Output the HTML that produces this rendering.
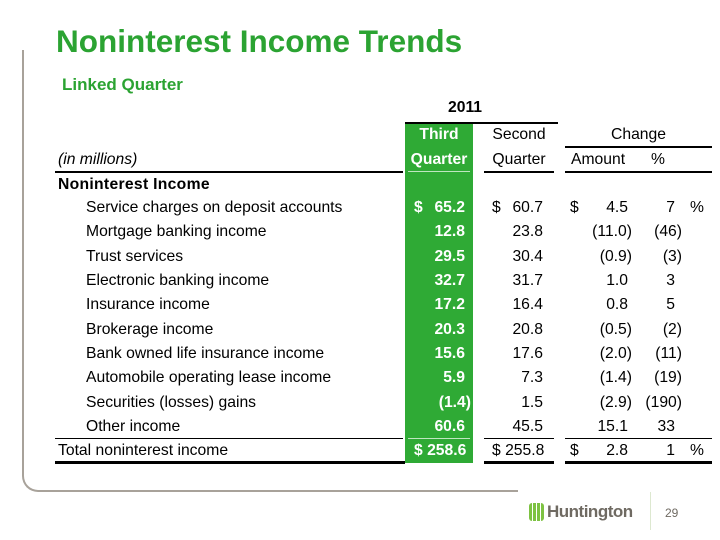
<!DOCTYPE html>
<html><head><meta charset="utf-8"><style>
body{margin:0;background:#fff;}
#p{position:relative;width:720px;height:540px;overflow:hidden;font-family:"Liberation Sans",Arial,sans-serif;color:#000;}
.a{position:absolute;white-space:nowrap;font-size:15.7px;line-height:24px;}
.r{text-align:right;}
.w{color:#fff;font-weight:bold;}
.b{font-weight:bold;}
.l{position:absolute;background:#000;}
</style></head><body><div id="p">
<div style="position:absolute;left:22px;top:50px;width:494px;height:440px;border-left:2px solid #a8a29a;border-bottom:2px solid #a8a29a;border-bottom-left-radius:16px;"></div>
<div style="position:absolute;left:56px;top:23px;font-size:31.5px;font-weight:bold;color:#2ba332;">Noninterest Income Trends</div>
<div style="position:absolute;left:62px;top:75px;font-size:17px;font-weight:bold;color:#2ba332;">Linked Quarter</div>

<div style="position:absolute;left:405px;top:123px;width:68px;height:340px;background:#2faa35;"></div>

<div class="a b" style="left:448px;top:96px;">2011</div>
<div class="l" style="left:405px;top:122px;width:153px;height:2px;"></div>
<div class="a w" style="left:405px;width:68px;top:123px;text-align:center;">Third</div>
<div class="a" style="left:484px;width:70px;top:123px;text-align:center;">Second</div>
<div class="a" style="left:565px;width:147px;top:123px;text-align:center;">Change</div>
<div class="l" style="left:565px;top:146px;width:147px;height:2px;"></div>
<div class="a" style="left:58px;top:148px;font-style:italic;">(in millions)</div>
<div class="a w" style="left:405px;width:68px;top:148px;text-align:center;">Quarter</div>
<div class="a" style="left:484px;width:70px;top:148px;text-align:center;">Quarter</div>
<div class="a" style="left:571px;top:148px;">Amount</div>
<div class="a" style="left:651px;top:148px;">%</div>
<div class="l" style="left:55px;top:171px;width:348px;height:2px;"></div>
<div class="l" style="left:408px;top:171px;width:62px;height:1px;background:#bfe6c0;"></div>
<div class="l" style="left:484px;top:171px;width:70px;height:2px;"></div>
<div class="l" style="left:565px;top:171px;width:147px;height:2px;"></div>
<div class="a b" style="left:58px;top:173px;letter-spacing:0.3px;">Noninterest Income</div>

<div class="a" style="left:86px;top:196px;">Service charges on deposit accounts</div>
<div class="a w" style="left:414px;top:196px;">$</div><div class="a w r" style="right:255px;top:196px;">65.2</div>
<div class="a" style="left:492px;top:196px;">$</div><div class="a r" style="right:177px;top:196px;">60.7</div>
<div class="a" style="left:570px;top:196px;">$</div><div class="a r" style="right:92px;top:196px;">4.5</div>
<div class="a r" style="right:45px;top:196px;">7</div><div class="a" style="left:690px;top:196px;">%</div>

<div class="a" style="left:86px;top:220px;">Mortgage banking income</div>
<div class="a w r" style="right:255px;top:220px;">12.8</div><div class="a r" style="right:177px;top:220px;">23.8</div>
<div class="a r" style="right:88px;top:220px;">(11.0)</div><div class="a r" style="right:38px;top:220px;">(46)</div>

<div class="a" style="left:86px;top:245px;">Trust services</div>
<div class="a w r" style="right:255px;top:245px;">29.5</div><div class="a r" style="right:177px;top:245px;">30.4</div>
<div class="a r" style="right:88px;top:245px;">(0.9)</div><div class="a r" style="right:38px;top:245px;">(3)</div>

<div class="a" style="left:86px;top:269px;">Electronic banking income</div>
<div class="a w r" style="right:255px;top:269px;">32.7</div><div class="a r" style="right:177px;top:269px;">31.7</div>
<div class="a r" style="right:92px;top:269px;">1.0</div><div class="a r" style="right:45px;top:269px;">3</div>

<div class="a" style="left:86px;top:293px;">Insurance income</div>
<div class="a w r" style="right:255px;top:293px;">17.2</div><div class="a r" style="right:177px;top:293px;">16.4</div>
<div class="a r" style="right:92px;top:293px;">0.8</div><div class="a r" style="right:45px;top:293px;">5</div>

<div class="a" style="left:86px;top:318px;">Brokerage income</div>
<div class="a w r" style="right:255px;top:318px;">20.3</div><div class="a r" style="right:177px;top:318px;">20.8</div>
<div class="a r" style="right:88px;top:318px;">(0.5)</div><div class="a r" style="right:38px;top:318px;">(2)</div>

<div class="a" style="left:86px;top:342px;">Bank owned life insurance income</div>
<div class="a w r" style="right:255px;top:342px;">15.6</div><div class="a r" style="right:177px;top:342px;">17.6</div>
<div class="a r" style="right:88px;top:342px;">(2.0)</div><div class="a r" style="right:38px;top:342px;">(11)</div>

<div class="a" style="left:86px;top:366px;">Automobile operating lease income</div>
<div class="a w r" style="right:255px;top:366px;">5.9</div><div class="a r" style="right:177px;top:366px;">7.3</div>
<div class="a r" style="right:88px;top:366px;">(1.4)</div><div class="a r" style="right:38px;top:366px;">(19)</div>

<div class="a" style="left:86px;top:391px;">Securities (losses) gains</div>
<div class="a w r" style="right:249px;top:391px;">(1.4)</div><div class="a r" style="right:177px;top:391px;">1.5</div>
<div class="a r" style="right:88px;top:391px;">(2.9)</div><div class="a r" style="right:38px;top:391px;">(190)</div>

<div class="a" style="left:86px;top:415px;">Other income</div>
<div class="a w r" style="right:255px;top:415px;">60.6</div><div class="a r" style="right:177px;top:415px;">45.5</div>
<div class="a r" style="right:92px;top:415px;">15.1</div><div class="a r" style="right:45px;top:415px;">33</div>

<div class="l" style="left:55px;top:438px;width:348px;height:1px;"></div>
<div class="l" style="left:408px;top:438px;width:62px;height:1px;background:#bfe6c0;"></div>
<div class="l" style="left:484px;top:438px;width:70px;height:1px;"></div>
<div class="l" style="left:565px;top:438px;width:147px;height:1px;"></div>

<div class="a" style="left:58px;top:439px;">Total noninterest income</div>
<div class="a w" style="left:414px;top:439px;">$ 258.6</div>
<div class="a" style="left:492px;top:439px;">$ 255.8</div>
<div class="a" style="left:570px;top:439px;">$</div><div class="a r" style="right:92px;top:439px;">2.8</div>
<div class="a r" style="right:45px;top:439px;">1</div><div class="a" style="left:690px;top:439px;">%</div>

<div class="l" style="left:55px;top:461px;width:350px;height:3px;"></div>
<div class="l" style="left:484px;top:461px;width:70px;height:3px;"></div>
<div class="l" style="left:565px;top:461px;width:147px;height:3px;"></div>

<div style="position:absolute;left:529px;top:503px;width:15px;height:18px;background:repeating-linear-gradient(90deg,#7dc242 0 3px,#fff 3px 4px);border-radius:3px;"></div>
<div style="position:absolute;left:547px;top:502px;font-size:17px;font-weight:bold;color:#6f6a62;letter-spacing:-0.5px;">Huntington</div>
<div style="position:absolute;left:650px;top:492px;width:1px;height:38px;background:#dde8d0;"></div>
<div style="position:absolute;left:665px;top:506px;font-size:12px;color:#6f6a62;">29</div>
</div></body></html>
